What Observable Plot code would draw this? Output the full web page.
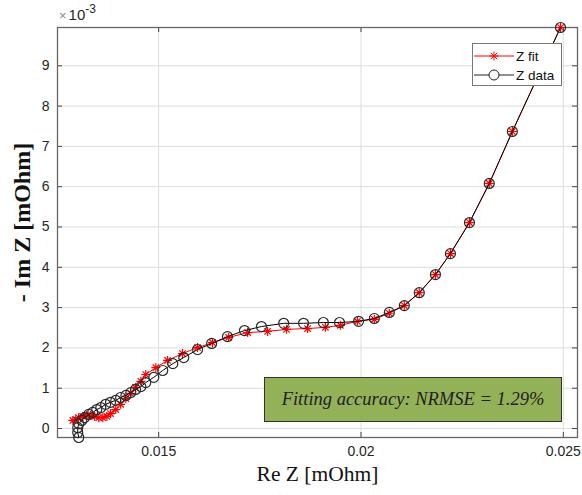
<!DOCTYPE html>
<html><head><meta charset="utf-8">
<script src="https://cdn.jsdelivr.net/npm/d3@7"></script>
<script src="https://cdn.jsdelivr.net/npm/@observablehq/plot@0.6"></script>
<style>
body{margin:0;background:#fff;}
#wrap{position:relative;width:582px;height:495px;overflow:hidden;background:#fff;}
#expo{position:absolute;left:59px;top:3px;font-family:"Liberation Sans",Arial,sans-serif;font-size:15px;color:#262626;}
#expo .times{color:#8a8a8a;font-size:13px;margin-right:2px;}
#expo sup{font-size:12px;position:relative;top:-1px;}
#legend{position:absolute;left:472px;top:43px;width:88px;height:41px;border:1px solid #777;background:#fff;font-family:"Liberation Sans",Arial,sans-serif;font-size:13.5px;color:#111;}
#legend .row{position:absolute;left:1px;height:18px;display:flex;align-items:center;}
#legend svg{display:block;margin-right:2px;}
#note{position:absolute;left:264px;top:377px;width:296px;height:43px;border:1px solid #333;background:#93b157;display:flex;align-items:center;justify-content:center;font-family:"Liberation Serif","Times New Roman",serif;font-style:italic;font-size:18.5px;color:#1e1e1e;}
</style></head><body><div id="wrap"></div><script>
// Re Z [mOhm] and -Im Z (in units of 1e-3 mOhm)
const dataRe = [0.013025,0.013,0.013,0.013025,0.0131,0.01317,0.01327,0.01337,0.01347,0.01357,0.01369,0.01381,0.01394,0.01406,0.01419,0.01431,0.01443,0.01456,0.01468,0.01488,0.0151,0.01535,0.01562,0.01596,0.01631,0.0167,0.01712,0.01754,0.01809,0.01858,0.01907,0.01947,0.01994,0.02033,0.0207,0.02107,0.02144,0.02184,0.02221,0.02268,0.02317,0.02374,0.02493];
const dataIm = [-0.223,-0.10,0.02,0.12,0.20,0.27,0.35,0.40,0.47,0.52,0.60,0.65,0.70,0.77,0.82,0.89,0.97,1.04,1.14,1.27,1.44,1.61,1.76,1.96,2.11,2.28,2.43,2.53,2.61,2.61,2.63,2.63,2.66,2.73,2.88,3.05,3.37,3.82,4.34,5.11,6.08,7.37,9.95];
const fitRe = [0.01288,0.01295,0.01302,0.01312,0.01322,0.01332,0.01342,0.01352,0.01362,0.01372,0.01381,0.01394,0.01406,0.01419,0.01431,0.01443,0.01456,0.01468,0.01493,0.01522,0.01559,0.01596,0.01633,0.01673,0.0172,0.01769,0.01816,0.01868,0.01912,0.01949,0.01991,0.02033,0.0207,0.02107,0.02144,0.02184,0.02221,0.02268,0.02317,0.02374,0.02493];
const fitIm = [0.20,0.22,0.27,0.30,0.32,0.32,0.30,0.27,0.27,0.30,0.37,0.47,0.60,0.74,0.87,1.02,1.17,1.34,1.51,1.69,1.86,2.01,2.13,2.26,2.38,2.41,2.46,2.48,2.51,2.56,2.66,2.71,2.86,3.05,3.37,3.82,4.34,5.11,6.08,7.37,9.95];

const xLimits = [0.0125, 0.02535];
const xTicks = [0.015, 0.02, 0.025];
const xTickLabels = ["0.015", "0.02", "0.025"];
const yTicks = [0,1,2,3,4,5,6,7,8,9];
const yTickLabels = ["0","1","2","3","4","5","6","7","8","9"];
const xLabel = "Re Z [mOhm]";
const yLabel = "- Im Z [mOhm]";
const seriesNames = ["Z fit", "Z data"];
const annotationText = "Fitting accuracy: NRMSE = 1.29%";
const exponentBase = "10", exponentPower = "-3";

const W = 582, H = 495, mL = 57, mT = 27, mR = 5, mB = 58;
const pw = W - mL - mR, ph = H - mT - mB;
const data = dataRe.map((x, i) => ({x, y: dataIm[i]}));
const fit = fitRe.map((x, i) => ({x, y: fitIm[i]}));

const star8 = {
  draw(ctx, size) {
    const r = Math.sqrt(size / Math.PI), d = r * Math.SQRT1_2;
    ctx.moveTo(-r, 0); ctx.lineTo(r, 0);
    ctx.moveTo(0, -r); ctx.lineTo(0, r);
    ctx.moveTo(-d, -d); ctx.lineTo(d, d);
    ctx.moveTo(-d, d); ctx.lineTo(d, -d);
  }
};
const sans = "'Liberation Sans', Arial, sans-serif";
const serif = "'Liberation Serif', 'Times New Roman', serif";

const chart = Plot.plot({
  width: W, height: H, marginLeft: mL, marginTop: mT, marginRight: mR, marginBottom: mB,
  style: {background: "#fff", fontFamily: sans, overflow: "visible"},
  x: {domain: xLimits},
  y: {domain: d3.extent(dataIm)},
  marks: [
    Plot.gridX(xTicks, {stroke: "#dcdcdc", strokeOpacity: 1}),
    Plot.gridY(yTicks, {stroke: "#dcdcdc", strokeOpacity: 1}),
    Plot.tickX(xTicks, {x: d => d, stroke: "#444", insetTop: ph - 5}),
    Plot.tickX(xTicks, {x: d => d, stroke: "#444", insetBottom: ph - 5}),
    Plot.tickY(yTicks, {y: d => d, stroke: "#444", insetRight: pw - 5}),
    Plot.tickY(yTicks, {y: d => d, stroke: "#444", insetLeft: pw - 5}),
    Plot.frame({stroke: "#666", strokeWidth: 1.3}),
    Plot.axisX(xTicks, {tickSize: 0, tickPadding: 9, tickFormat: d => xTickLabels[xTicks.indexOf(d)], fontSize: 14, fill: "#262626", label: null}),
    Plot.axisY(yTicks, {tickSize: 0, tickPadding: 8, tickFormat: d => yTickLabels[yTicks.indexOf(d)], fontSize: 14, fill: "#262626", label: null}),
    Plot.text([xLabel], {text: d => d, frameAnchor: "bottom", dy: 43, fontSize: 21.5, fontFamily: serif, fill: "#111"}),
    Plot.text([yLabel], {text: d => d, frameAnchor: "left", textAnchor: "middle", rotate: -90, dx: -35, dy: -10, fontSize: 24, fontWeight: "bold", fontFamily: serif, fill: "#111"}),
    Plot.line(fit, {x: "x", y: "y", stroke: "#ff0000", strokeWidth: 1}),
    Plot.dot(fit, {x: "x", y: "y", symbol: star8, r: 4.5, stroke: "#ff0000", fill: "none", strokeWidth: 1.2}),
    Plot.line(data, {x: "x", y: "y", stroke: "#000", strokeWidth: 1}),
    Plot.dot(data, {x: "x", y: "y", r: 5, stroke: "#2a2a2a", fill: "none", strokeWidth: 1.2})
  ]
});
const wrap = document.getElementById("wrap");
wrap.appendChild(chart);

const expo = document.createElement("div");
expo.id = "expo";
expo.innerHTML = `<span class="times">×</span>${exponentBase}<sup>${exponentPower}</sup>`;
wrap.appendChild(expo);

const legend = document.createElement("div");
legend.id = "legend";
const sym = (k) => k === 0
  ? `<svg width="40" height="14"><line x1="0" y1="7" x2="40" y2="7" stroke="#ff0000"/><path d="M15.5,7H24.5M20,2.5V11.5M16.8,3.8L23.2,10.2M16.8,10.2L23.2,3.8" stroke="#ff0000" fill="none"/></svg>`
  : `<svg width="40" height="14"><line x1="0" y1="7" x2="40" y2="7" stroke="#222"/><circle cx="20" cy="7" r="5" stroke="#222" fill="#fff"/></svg>`;
seriesNames.forEach((name, k) => {
  const row = document.createElement("div");
  row.className = "row";
  row.style.top = (3 + k * 19) + "px";
  row.innerHTML = sym(k) + `<span>${name}</span>`;
  legend.appendChild(row);
});
wrap.appendChild(legend);

const note = document.createElement("div");
note.id = "note";
note.textContent = annotationText;
wrap.appendChild(note);
</script></body></html>
